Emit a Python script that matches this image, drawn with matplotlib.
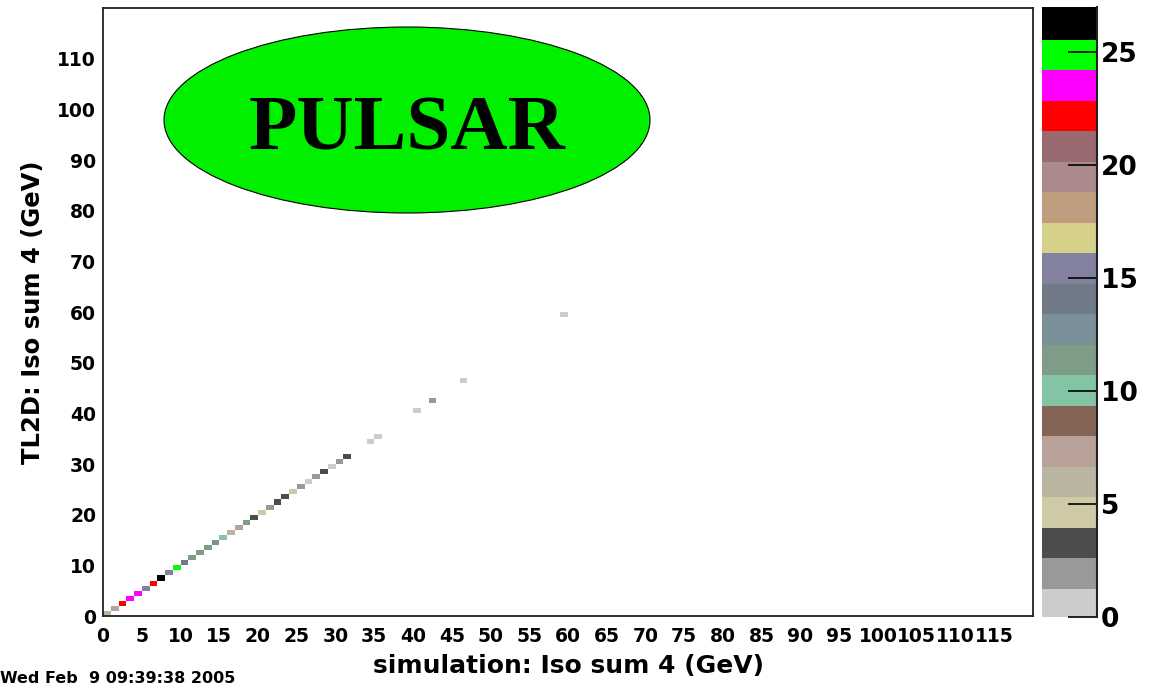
import numpy as np
import matplotlib
matplotlib.use("Agg")
import matplotlib.pyplot as plt
from matplotlib.colors import ListedColormap, BoundaryNorm
from matplotlib.patches import Ellipse
from matplotlib.ticker import NullLocator

# ---- data ----
x_bins = [0, 1, 2, 3, 4, 5, 6, 7, 8, 9, 10, 11, 12, 13, 14, 15, 16, 17, 18, 19,
          20, 21, 22, 23, 24, 25, 26, 27, 28, 29, 30, 31, 34, 35, 40, 42, 46, 59]
y_bins = [0, 1, 2, 3, 4, 5, 6, 7, 8, 9, 10, 11, 12, 13, 14, 15, 16, 17, 18, 19,
          20, 21, 22, 23, 24, 25, 26, 27, 28, 29, 30, 31, 34, 35, 40, 42, 46, 59]
counts = [6, 7, 22, 24, 24, 16, 22, 27, 16, 25, 14, 12, 12, 12, 13, 10, 6, 7, 11, 3,
          5, 2, 3, 3, 5, 2, 1, 2, 3, 1, 2, 3, 1, 1, 1, 2, 1, 1]
z_max = 27
n_levels = 20
palette = ["#cccccc", "#999999", "#4c4c4c", "#d0c9a6", "#bab5a0", "#b7a199",
           "#856455", "#82c4a4", "#7f9c87", "#7b8f99", "#707b87", "#8282a0",
           "#d6d189", "#bf9e80", "#aa8a8c", "#996a70", "#ff0000", "#ff00ff",
           "#00ff00", "#000000"]
x_ticks = list(range(0, 120, 5))
y_ticks = list(range(0, 111, 10))
cb_ticks = [0, 5, 10, 15, 20, 25]
x_title = "simulation: Iso sum 4 (GeV)"
y_title = "TL2D: Iso sum 4 (GeV)"
stamp = "Wed Feb  9 09:39:38 2005"
label = "PULSAR"

# ---- figure ----
fig = plt.figure(figsize=(11.52, 6.84), dpi=100)
fig.patch.set_facecolor("white")
ax = fig.add_axes([103/1152, 68/684, 930/1152, 608/684])
cax = fig.add_axes([1042/1152, 67/684, 55/1152, 610/684])

edges = np.arange(0, 121)
H = np.zeros((120, 120))
for xi, yi, c in zip(x_bins, y_bins, counts):
    H[yi, xi] = c
Hm = np.ma.masked_equal(H, 0)

cmap = ListedColormap(palette)
bounds = np.linspace(0, z_max, n_levels + 1)
norm = BoundaryNorm(bounds, cmap.N)
mesh = ax.pcolormesh(edges, edges, Hm, cmap=cmap, norm=norm)

ax.set_xlim(0, 120)
ax.set_ylim(0, 120)
ax.set_xticks(x_ticks)
ax.set_yticks(y_ticks)
ax.tick_params(length=0, labelsize=13.5, pad=8)
ax.tick_params(axis="y", pad=5)
for t in ax.get_xticklabels() + ax.get_yticklabels():
    t.set_fontweight("bold")
    t.set_family("DejaVu Sans")
for s in ax.spines.values():
    s.set_linewidth(1.3)
    s.set_color("#222222")

fig.text(0.4935, 0.026, x_title, ha="center", va="center",
         fontsize=18, fontweight="bold", family="DejaVu Sans")
fig.text(0.0286, (684 - 312) / 684, y_title, ha="center", va="center", rotation=90,
         fontsize=17.5, fontweight="bold", family="DejaVu Sans")
fig.text(0.0, (684 - 671) / 684, stamp, ha="left", va="top",
         fontsize=11.5, fontweight="bold", family="DejaVu Sans")

ell = Ellipse((304/930, (616-120)/608), 486/930, 186/608, transform=ax.transAxes,
              facecolor="#00f000", edgecolor="black", linewidth=0.8, zorder=5)
ax.add_patch(ell)
ax.text(304/930, (616-150)/608, label, transform=ax.transAxes, ha="center",
        va="baseline", fontsize=57, fontweight="bold", family="Liberation Serif",
        zorder=6)

cb = fig.colorbar(mesh, cax=cax, boundaries=bounds, ticks=cb_ticks)
cb.outline.set_visible(False)
cax.yaxis.set_minor_locator(NullLocator())
cax.minorticks_off()
cax.tick_params(which="minor", length=0)
cax.tick_params(direction="in", length=21, width=1.2, labelsize=19, pad=3,
                color="black")
for t in cax.get_yticklabels():
    t.set_fontweight("bold")
    t.set_family("DejaVu Sans")
cax.axvline(0.995, color="#222222", linewidth=1.5, clip_on=False)
cb.solids.set_edgecolor("face")

fig.savefig("out.png", dpi=100, facecolor="white")
